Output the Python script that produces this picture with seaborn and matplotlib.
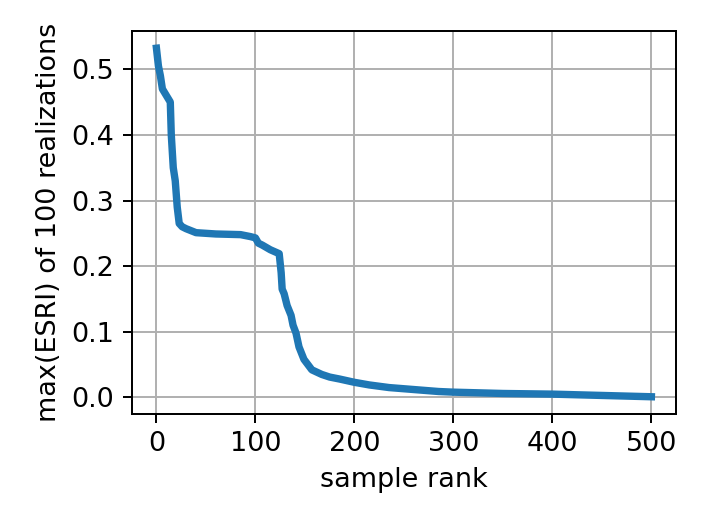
import matplotlib
matplotlib.use('Agg')
from matplotlib import pyplot as plt
import seaborn as sns
import pandas as pd

# sorted max(ESRI) values, by sample rank
rank = [0, 2, 4, 6, 10, 14, 15, 17, 19, 21, 23, 26, 30, 40, 60, 85, 95, 100,
        103, 107, 115, 124, 126, 127, 129, 132, 136, 138, 141, 144, 149, 153,
        157, 167, 175, 185, 200, 215, 235, 260, 285, 300, 350, 400, 450, 500]
max_esri = [0.532, 0.505, 0.49, 0.47, 0.46, 0.45, 0.40, 0.35, 0.33, 0.29, 0.265,
            0.26, 0.257, 0.251, 0.249, 0.248, 0.245, 0.243, 0.235, 0.232, 0.225,
            0.219, 0.19, 0.165, 0.158, 0.14, 0.125, 0.11, 0.098, 0.077, 0.058,
            0.05, 0.042, 0.035, 0.031, 0.028, 0.023, 0.019, 0.015, 0.012, 0.009,
            0.008, 0.006, 0.005, 0.003, 0.001]

df = pd.DataFrame({'rank': rank, 'esri': max_esri})

plt.rcParams['font.size'] = 11
fig, ax = plt.subplots(figsize=(4, 3), dpi=177)
sns.lineplot(data=df, x='rank', y='esri', ax=ax, color='#1f77b4', lw=3)
ax.grid(True)
ax.set_xlabel('sample rank')
ax.set_ylabel('max(ESRI) of 100 realizations')
ax.set_xticks([0, 100, 200, 300, 400, 500])
ax.set_yticks([0.0, 0.1, 0.2, 0.3, 0.4, 0.5])
fig.subplots_adjust(left=0.186, right=0.955, bottom=0.22, top=0.942)
fig.savefig('out.png', dpi=177)
